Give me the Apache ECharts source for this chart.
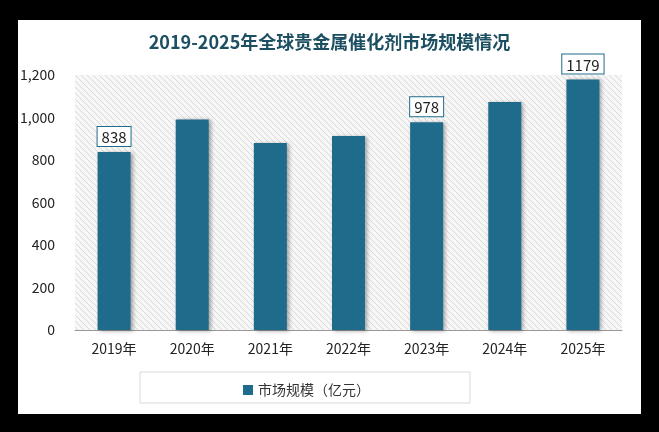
<!DOCTYPE html>
<html><head><meta charset="utf-8">
<script src="https://cdn.jsdelivr.net/npm/echarts@6/dist/echarts.min.js"></script>
<style>body{margin:0;background:#000}#c{width:659px;height:432px}</style>
</head><body><div id="c"></div>
<script>
var years = ['2019年','2020年','2021年','2022年','2023年','2024年','2025年'];
var sizes = [838, 991, 880, 913, 978, 1073, 1179];
var labelled = [0, 4, 6]; // 只标注这几年

// 斜线底纹
var pc = document.createElement('canvas');
pc.width = 6; pc.height = 6;
var ctx = pc.getContext('2d');
ctx.fillStyle = '#f7f7f7'; ctx.fillRect(0, 0, 6, 6);
ctx.strokeStyle = '#d9d9d9'; ctx.lineWidth = 1;
ctx.beginPath(); ctx.moveTo(0, 0); ctx.lineTo(6, 6); ctx.moveTo(-3, 3); ctx.lineTo(3, 9); ctx.moveTo(3, -3); ctx.lineTo(9, 3); ctx.stroke();

var chart = echarts.init(document.getElementById('c'));
chart.setOption({
    backgroundColor: '#000',
    graphic: [
        {type: 'rect', shape: {x: 18, y: 20, width: 623, height: 394}, style: {fill: '#fff'}, z: -10},
        {type: 'rect', shape: {x: 140, y: 372, width: 330, height: 31}, style: {fill: 'none', stroke: '#d9d9d9'}, z: 10}
    ],
    title: {
        text: '2019-2025年全球贵金属催化剂市场规模情况',
        left: 'center', top: 28,
        textStyle: {color: '#1d4f63', fontSize: 18, fontWeight: 'bold', fontFamily: 'Noto Sans CJK SC'}
    },
    legend: {
        data: ['市场规模（亿元）'], left: 238, top: 378,
        itemWidth: 10, itemHeight: 10, icon: 'rect',
        textStyle: {fontSize: 14, color: '#333', fontFamily: 'Noto Sans CJK SC'}
    },
    grid: {left: 75, right: 37, top: 75, bottom: 102, show: true,
        backgroundColor: {image: pc, repeat: 'repeat'}, borderWidth: 0},
    xAxis: {
        type: 'category', data: years,
        axisLine: {lineStyle: {color: '#999'}}, axisTick: {show: false},
        axisLabel: {color: '#222', fontSize: 14, margin: 12, fontFamily: 'Noto Sans CJK SC'}
    },
    yAxis: {
        type: 'value', min: 0, max: 1200, interval: 200,
        splitLine: {show: false},
        axisLabel: {color: '#222', fontSize: 14, margin: 20, fontFamily: 'Noto Sans CJK SC'}
    },
    series: [{
        name: '市场规模（亿元）', type: 'bar', barWidth: 33,
        itemStyle: {color: '#1f6b8c', shadowColor: 'rgba(0,0,0,0.35)', shadowBlur: 4, shadowOffsetX: 2, shadowOffsetY: 1},
        data: sizes.map(function (v, i) {
            return labelled.indexOf(i) >= 0 ? {value: v, label: {show: true}} : v;
        }),
        label: {
            show: false, position: 'top', distance: 6,
            color: '#222', fontSize: 15, fontFamily: 'Noto Sans CJK SC',
            backgroundColor: '#fff', borderColor: '#1f6b8c', borderWidth: 1,
            padding: [3, 4, 1, 4]
        }
    }]
});
</script></body></html>
